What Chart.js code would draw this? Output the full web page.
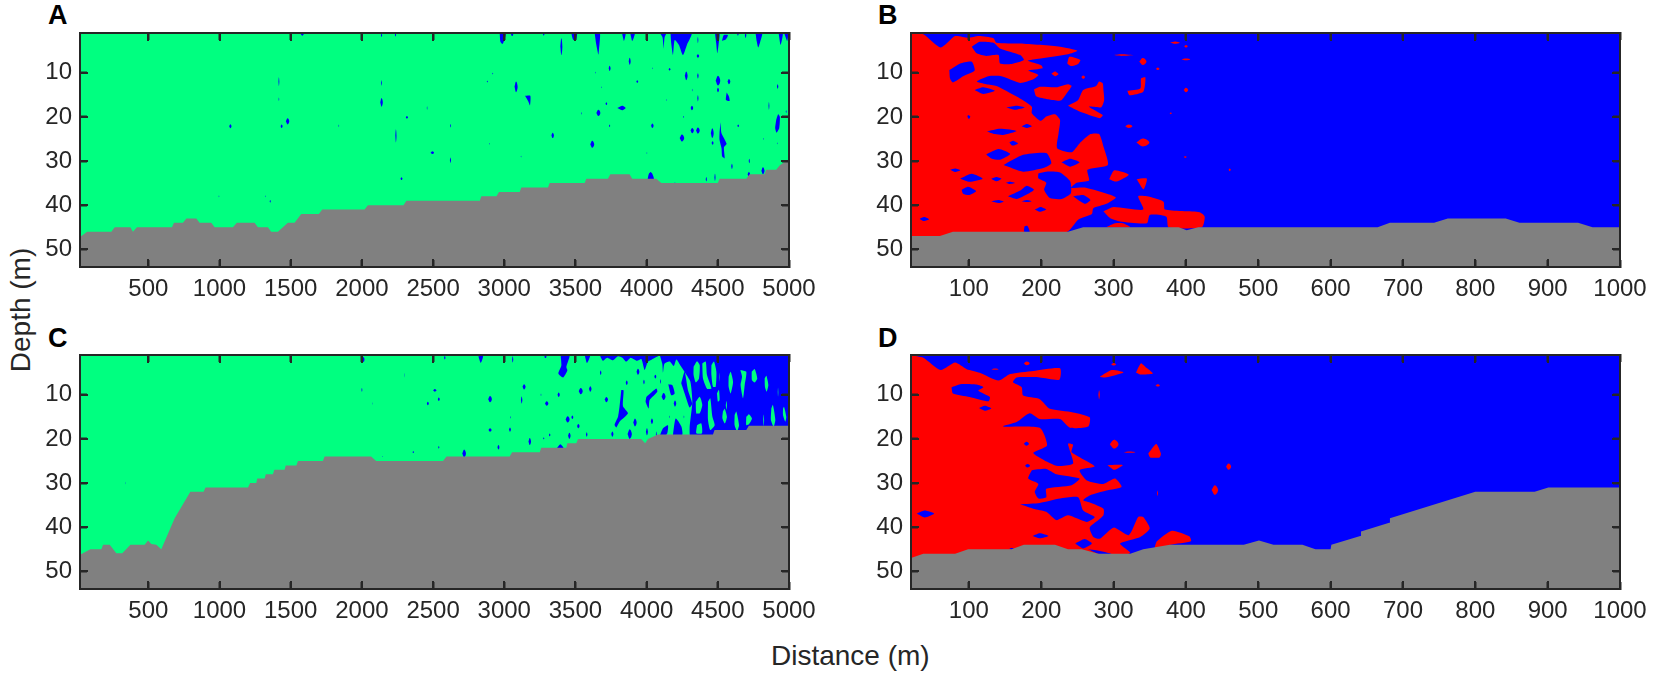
<!DOCTYPE html>
<html><head><meta charset="utf-8">
<script src="https://cdn.jsdelivr.net/npm/chart.js@4"></script>
<style>
html,body{margin:0;padding:0;background:#fff;width:1654px;height:679px;overflow:hidden;font-family:"Liberation Sans",Arial,sans-serif;color:#262626}
canvas{position:absolute}
.t{position:absolute;white-space:nowrap;line-height:1}
.l{font-weight:bold;font-size:27px;color:#000}
.bar{position:absolute;background:#262626;z-index:5}
</style></head><body>
<div class="t l" style="left:48px;top:2px">A</div>
<div class="t l" style="left:878px;top:2px">B</div>
<div class="t l" style="left:48px;top:325px">C</div>
<div class="t l" style="left:878px;top:325px">D</div>
<div class="t" id="dep" style="font-size:28px;left:21px;top:310px;transform:translate(-50%,-50%) rotate(-90deg)">Depth (m)</div>
<div class="t" style="font-size:28px;left:771px;top:642px">Distance (m)</div>
<canvas id="cA"></canvas><canvas id="cB"></canvas><canvas id="cC"></canvas><canvas id="cD"></canvas>
<script>
const depthTop = 1, depthBottom = 54;
const depthTicks = [10,20,30,40,50];
const longTicks = [500,1000,1500,2000,2500,3000,3500,4000,4500,5000];
const shortTicks = [100,200,300,400,500,600,700,800,900,1000];
const longStart = 20, longEnd = 5000, shortStart = 20, shortEnd = 1000;
const green = '#00ff80', blue = '#0000ff', red = '#ff0000', grey = '#808080', ink = '#262626';

// ---- Panel A: sea bed (distance, depth) ----
const bedAx = [20,30,70,240,264,374,392,420,666,680,743,767,837,860,942,966,1094,1122,1246,1270,1340,1363,1410,1480,1527,1574,1698,1721,2019,2042,2292,2313,2828,2839,2945,2963,3108,3120,3307,3319,3565,3576,3728,3745,3880,3899,4068,4103,4500,4512,4700,4723,4828,4840,4910,4934,4980,5000];
const bedAd = [47,47,46,46,45,45,46,45,45,44,44,43,43,44,44,45,45,44,44,45,45,46,46,44,44,42,42,41,41,40,40,39,39,38,38,37,37,36,36,35,35,34,34,33,33,34,34,35,35,34,34,33,33,32,32,31,30,30];
// small patches: distance, depth, half width, half height
const spotsA = [
[1076,22.1,8,.45],[1478,21,12,.7],[1436,22.1,7,.4],[1417,12,3,1],[1417,16,2,.4],[2138,16.7,9,1],[2138,12.3,3,.6],[2316,20.1,8,.3],[2239,24.3,4,1.5],[2278,34,7,.3],[1838,22,2,.3],[1356,39.1,4,.3],[1321,38,2,.2],[1581,1.3,10,.3],[2138,1.5,4,.4],[2236,1.4,4,.4],[996,38,2,.2],
[2495,28.1,12,.3],[2622,22,3,.4],[2622,29.8,4,.6],[2458,18,2,.4],[2881,12,4,.2],[2919,10.2,3,.2],[2898,26.1,2,.2],[3118,29,2,.2],[3083,13.2,11,1.2],[3340,24.2,9,.6],[3401,4.1,7,1.9],[3618,26.2,14,.8],[3661,19.1,14,.7],[3740,9,7,.6],[3881,7.4,7,.8],[3717,17,6,.3],[3740,22,4,.3],[3934,12,7,.3],[4040,22,9,.5],[4161,9.2,7,.3],[4278,10.7,10,1],[4360,10.7,5,.6],[4360,6.2,9,.4],[4360,15.8,4,.7],[4318,18,9,.5],[4320,23.1,12,.6],[4360,23.1,13,.7],[4248,24.8,16,.8],[4461,23.7,10,1.1],[4463,25.9,7,.4],[4501,11.8,16,1.1],[4501,13.9,7,.5],[4578,12,10,.6],[4643,22,6,.3],[4859,17.5,3,.9],[4920,13.1,5,.5],[4599,31.2,5,.6],[4721,30,4,.5],[4817,32.2,11,.8],[4718,33,9,.5],[4480,33.7,4,.8],[4419,34.1,4,.5],[4199,35,2,.2],[3541,19.2,2,.3],[3682,13.3,2,.2],[3642,10,2,.2],[4042,9,2,.2],[4138,16.2,2,.2],[4980,18.8,3,.3],[4320,13.9,2,.3],[4260,20,3,.2],[4822,25,2,.2],[4917,26,2,.2],[4002,28.2,2,.2],[3055,1.2,8,.5],[3277,1.3,5,.3],[4360,2.6,3,.7],[4641,1.3,5,.3],[4695,1.5,5,.6]];
// larger patches: [distances],[depths]
const blobsA = [
[[3146,3183,3181,3169],[15.2,15.2,17.4,16.5]],
[[3794,3829,3853,3829],[18,17.5,18,18.5]],
[[4007,4016,4028,4040,4051],[34.1,32.9,32.5,32.9,34.1]],
[[4910,4924,4936,4931,4913,4903],[20.7,19.4,20,22.6,23.6,22.6]],
[[4519,4526,4562,4543,4548,4531,4526,4512,4512],[21.2,23.7,26.1,26.9,29.4,29,27.1,25.2,23.7]],
[[4562,4578,4583,4557],[14.5,15.4,16.4,16.2]],
[[2968,3010,3001,2987,2973],[1,1,2.6,3.5,3]],
[[3471,3511,3502,3483],[1,1,2.8,2.5]],
[[3635,3672,3665,3661,3647],[1,1,4.9,5.9,3.7]],
[[3827,3853,3841],[1,1,2.8]],
[[3885,3918,3899],[1,1,2.8]],
[[4094,4138,4126,4119,4112],[1,1,2,4.5,2]],
[[4168,4316,4283,4255,4227,4197,4185,4173],[1,1,3.7,6,3.7,2.6,6,3.4]],
[[4480,4512,4505,4496,4489],[1,1,3.7,5.6,3.4]],
[[4529,4541,4571,4555],[2.8,1.5,1.5,2.5]],
[[4765,4812,4798,4784,4774],[1,1,3,4.3,3]],
[[4927,4957,4941],[1,1,3.7]],
[[4966,4994,4987],[1,1,2.8]]];

// ---- Panel B ----
const bedBx = [20,60,78,237,258,390,401,417,665,682,743,762,842,861,942,962,1000];
const bedBd = [47,47,46,46,45,45,45.7,45,45,44,44,43,43,44,44,45,45];
const redB = [
[[20,37,61,81,99,114,134,138,171,226,250,237,189,181,200,202,182,196,189,171,145,127,111,124,138,166,187,187,199,207,219,226,224,222,242,253,268,280,286,292,264,266,249,241,260,303,290,272,270,251,235,20],[1,1.3,4.3,1.7,2.1,1.7,2.2,3.2,3.4,4.1,5,5.8,7,7.3,8.3,9,9.5,10.5,11.5,12.3,10.8,10.8,12,12.6,13,15.4,17.7,19.2,20.9,19.9,19.4,20.7,23.7,27.1,28,26,23.9,23.9,26.7,30.9,32,34.4,34.9,36.1,36,38.2,39.7,40.7,42,43.3,46.1,47.5]],
[[236,239,254,251,241],[7.9,6.4,7.1,8,8.5]],
[[214,219,224,219],[10.2,9.7,10.3,10.8]],
[[190,198,221,237,242,235,227,210,193],[13.8,13.2,13.3,12.6,13,14.7,16.3,16,15.3]],
[[237,251,258,276,280,285,286,287,283,266,285,281,253],[17.5,16.2,13.9,13,12,12.4,13.9,16.2,17.8,17.7,19.6,20.3,18.8]],
[[298,311,328,311],[6,5.8,6,6.2]],
[[378,385,392,385],[3.15,2.9,3.2,3.45]],
[[319,337,338,344,341,322],[14.1,13.55,11.3,11.06,14.3,15.1]],
[[294,301,321,304],[34.1,32.1,33.1,34.65]],
[[332,346,341.4],[34.1,34,36.4]],
[[286,300,341,334,346,369,371,419,426,422,376,373,350,346,309,295],[41.4,40.4,41,38,38,39.2,41,41.6,42.6,45,45,42.6,42.2,44.1,43.7,42.9]],
[[290,302,313,323],[45,44.1,44.1,45]]];
const redSpotsB = [[258,11,2.5,.35],[400,4,2.5,.3],[400,7,6,.2],[340.5,7.45,5,.8],[361,9.1,2.5,.3],[400,13.9,3,.5],[379,19.2,1.5,.2],[321,22.1,5,.4],[340.5,25.8,9,.9],[399,29.1,2,.2],[460.5,32,1.5,.3]];
const holesB = [
[[104,115,134,143,171,176,159,143,141,124,111],[4.1,3,3.2,4.5,6,7.1,8,7.9,6,6.2,5.6]],
[[73,88,104,108,92,78,74],[9.4,7.9,7.5,9.5,10.8,12.2,11.3]],
[[108,120,136,120],[13.9,13.3,14.1,14.8]],
[[152,166,177,164],[17.9,17.5,17.9,18.4]],
[[99,102,100,98],[19.6,19.9,20.5,19.9]],
[[173,180,187,180],[22.1,21.6,22.1,22.5]],
[[125,143,166,147,136],[23.3,22.7,23.2,24.1,23.9]],
[[156,161,168,160],[25.8,25.4,26,26.5]],
[[124,141,157,143,131],[28.5,27.3,28.4,29.7,29.4]],
[[148,175,207,214,203,175],[30.9,28.6,28.2,30.5,31.6,32.4]],
[[228,240,253,240],[30.3,29.5,30.3,31.3]],
[[74,81,88,81],[32,31.7,32.1,32.5]],
[[88,104,119,101],[34,32.9,34,34.7]],
[[131,138,145,138],[34,33.6,34,34.6]],
[[151,157,164,157],[34.9,34.7,35,35.2]],
[[90,99,110,101,92],[36.5,35.8,36.8,37.7,37.4]],
[[154,171,180,190,182,166],[38,36.7,35.6,36.5,37.4,38.6]],
[[131,141,148,141],[39.1,38.8,39.2,39.5]],
[[173,180,187,180],[39.1,38.8,39.1,39.3]],
[[191,199,207,198],[41,40.4,41,41.5]],
[[32,38,45,38],[43.1,42.7,43.2,43.6]],
[[176,177,181,184],[46,44.8,44.7,46]],
[[244,258,268,260],[38,37.7,38.8,39.7]],
[[196,207,226,240,241,228,212,204,207,196],[32.8,32.4,32.6,34.6,37.3,38.6,38.4,36.5,34.9,33.9]]];

// ---- Panel C ----
const bedCx = [20,30,93,170,182,229,275,317,374,474,498,521,556,591,650,685,795,888,902,1200,1215,1258,1265,1317,1325,1375,1385,1457,1465,1540,1551,1726,1738,2065,2100,2570,2594,3038,3055,3249,3260,3436,3443,3506,3518,3962,3990,4009,4080,4466,4477,4700,4718,5000];
const bedCd = [46.1,46.1,45,45,44,44,45.9,45.9,44,44,43,43.8,44,45,40.6,38,32,32,31,31,30,30,29,29,28,28,27,27,26,26,25,25,24,24,25,25,24,24,23,23,22,22,21,21,20,20,21,20,19,19,18,18,17,17];
const spotsC = [
[2512,9,12,.3],[2463,12,7,.4],[2540,11,7,.4],[2900,11,13,.7],[3122,11.2,5,.8],[3139,8.2,11,.6],[3298,12,12,.5],[3382,10,8,.5],[3537,9.2,14,.7],[3604,8.7,9,.6],[3717,11.1,12,.6],[3677,5,5,.5],[3939,4.8,10,.7],[3860,7.3,7,.5],[3981,7.1,5,.5],[4061,5.9,7,.4],[4119,10.4,14,.8],[4199,12,9,.7],[4037,16,8,.6],[3918,16.3,12,.9],[4002,18.4,7,.8],[3881,18.9,15,1.1],[3759,18.9,8,.6],[3579,19,5,.5],[3457,19.3,9,.7],[3520,17.1,9,.5],[3445,15.6,14,.7],[3478,15.1,7,.4],[3319,19.1,5,.3],[3277,19.9,4,.2],[3179,20.6,9,.8],[3040,17.9,7,.5],[2900,18,11,.4],[2959,21.9,7,.5],[2718,23.3,13,.9],[2540,21.9,4,.3],[2362,23,4,.2],[3043,15.1,2,.3],[3258,10,2,.3],[2582,1.6,5,.4],[3059,2,4,.7],[3289,1.4,8,.3],[2012,2,6,.6],[2000,8.9,3,.4],[2077,12,1,.3],[2297,5.6,1,.5],[2358,23,1,.2],[339,30,1,.3],[2143,24,2,.1],[4098,7,3,.5],[4068,19,3,.7],[4161,15,2,.3],[4262,15,2,.3]];
const blobsC = [
[[2818,2851,2835],[1.3,1.3,2.8]],
[[3396,3459,3436,3443,3413,3380,3401],[1,1,3.7,4.5,6.1,5.2,3.4]],
[[3565,3604,3581],[1,1,2.8]],
[[3370,3394,3417],[22.1,21.2,22.1]],
[[3670,3693,3722,3764,3799,3829,3857,3888,3932,3963,3986,4009,4037,4091],[1,2.3,1.6,2.2,1.3,1.6,2.5,1.6,2.3,1.9,4.4,2.5,2,1]],
[[3822,3838,3834,3869,3810,3787,3775,3799,3810],[8.9,9,12.6,14.2,16.1,17.4,16.8,15,12.6]],
[[3998,4068,4075,4021,4014,3993],[10.5,8.6,9.3,11.2,13.1,11.6]],
[[4152,4180,4197,4173],[7.6,7.8,9.7,10.1]],
[[4243,4267,4290,4320,4302,4267],[7.4,4.8,8.9,12,12.9,9.7]],
[[4091,4115,4150,4145,4115],[19.5,17.6,16.9,18.7,19.9]],
[[4185,4204,4244,4250],[19.1,15.4,17.2,19.1]],
[[4092,4110,4115,4125,4162,4190,4209,4240,4270,4307,4321,4302,4314,5000,5000],[1,3,5,3,2.5,3.5,2,3.5,5,7,11.6,17.6,20,20,1]]];
const fingersC = [
[[4330,4354,4373,4368,4345,4330],[3.67,2.39,3.29,6.3,7.2,5.55]],
[[4391,4415,4424,4455,4424,4396],[2.9,2.5,5.55,8.6,8.6,6.3]],
[[4455,4473,4490,4485,4466,4455],[3.3,2.5,4.8,8.2,8.2,5.55]],
[[4345,4373,4391,4373,4349],[11.6,10.45,12.3,14.2,14.2]],
[[4431,4447,4462,4478,4447,4431],[11.6,10.8,15,16.9,18,15.7]],
[[4354,4384,4389,4349],[16.9,16.5,18.7,18.7]],
[[4494,4508,4513,4501],[9.7,8.9,11.2,11.6]],
[[4576,4590,4607,4590,4576],[5.9,4.8,7.1,9.7,8.2]],
[[4658,4700,4689,4677,4660,4670],[4.4,4.8,7.8,10.8,7.8,5.9]],
[[4738,4759,4777,4759,4740],[4.8,4.2,6.3,7.2,6.7]],
[[4829,4841,4855,4843,4831],[6.3,5.7,7.8,9.3,8.2]],
[[4536,4548,4564,4550,4532],[13.8,13.2,15,16.5,15.3]],
[[4618,4630,4649,4635,4618],[14.6,13.8,16.9,18.2,16.9]],
[[4700,4719,4740,4719,4700],[15,14.4,15.4,16.7,16.9]],
[[4876,4887,4904,4892,4873],[13.1,12.3,15.7,17.2,15.7]],
[[4958,4965,4981,4974,4958],[13.1,12.7,15,16.1,14.6]]];
const fingerSpotsC = [[4560,12.4,4,1],[4822,15.8,3,1.3],[4923,9.4,2,1],[4510,6,1.5,1]];

// ---- Panel D ----
const bedDx = [20,37,81,99,159,176,219,237,256,279,323,341,378,480,501,521,561,579,600,601,641,642,681,682,800,882,901,1000];
const bedDd = [47,46,46,45,45,44,44,45,45,46,46,45,44,44,43,44,44,45,45,44,42,41,39,38,32,32,31,31];
const redD = [
[[20,37,61,81,97,115,141,157,189,226,225,198,166,161,173,175,198,212,244,267,265,240,226,198,184,166,147,198,208,189,221,244,237,244,242,274,253,263,286,302,311,290,267,258,269,286,286,279,267,272,281,300,321,334,341,350,337,309,323,305,20],[1.1,1.6,4.4,2.7,4.2,5,6.8,5.3,4.6,4,6.6,6.1,6.1,7.2,8.3,10.2,11,13.2,14,15.1,17.2,17.5,15.5,15.5,14.2,16.2,17.2,17.5,21.5,23.2,26.1,25.6,21.1,21.3,23,26.2,27.1,29.4,30.2,29,30.9,31.7,32.8,33.9,34.5,35.8,37.3,38.4,40.1,42.2,42.6,40.1,41.8,37.7,37.7,40.3,42.2,43.7,45.8,46.7,47.5]],
[[281,297.6,313.7,288],[5.93,4.42,4.95,6.1]],
[[331,337.7,343.7,354.3,336.8],[4.95,2.9,3.67,5.2,5.4]],
[[348,359,365.4,363.6,350.6],[23.3,21.15,23.3,24.2,24.2]],
[[291.6,312.8,300.8],[25.9,25.9,27]],
[[356.6,359.9,380.7,405,407,378.4,362],[44.7,43.2,40.8,42.1,43.2,44,45]]];
const redSpotsD = [[300,3.1,3.5,.3],[361,7.9,3,.25],[300.8,21.2,6,1],[322,23,8,.15],[459,26.3,3.5,.7],[440,31.6,4.5,1.1],[360.8,32.3,.7,.6],[180,2.9,4,.4],[136,4.2,5,.15],[280,10,1,1]];
const holesD = [
[[187,207,221,253,242,207,207,196,191,196,182],[27.1,26.8,28,29,30.5,31.3,33.2,33.5,32,30.2,29]],
[[171,198,226,251,258,274,263,237,221,207,189],[34.8,34.5,33.5,33.2,36.2,37.7,38.8,37.3,38.4,36.5,35.8]],
[[76,88,111,120,113,129,127,101,78],[8.3,7.6,7.7,8.3,9.1,10.5,11.5,10.5,9.7]],
[[114,122,131,122],[13,12.5,13.1,13.6]],
[[28,39,52,39],[36.9,36.2,36.9,37.8]],
[[188,198,210,198],[42,41.4,42,42.5]],
[[247,260,270,258],[43.7,42.7,43.7,44.8]],
[[265,276,297,279],[45,45.2,46,46]]];
const holeSpotsD = [[179.5,21.1,3.5,.45],[181,26.1,3.5,.4],[159,44.9,3,.2]];

// ---- building ----
const zip = (xs, ds) => xs.map((x, i) => ({x, y: ds[i]}));
const closed = pts => pts.concat([pts[0]]);
const spotPoly = ([x, d, hw, hh]) => closed([{x: x - hw, y: d}, {x, y: d - hh}, {x: x + hw, y: d}, {x, y: d + hh}]);
const shape = (data, color, tension) => ({data, backgroundColor: color, borderWidth: 0, pointRadius: 0, showLine: true, fill: 'shape', tension: tension || 0});
const noPad = s => { s.paddingTop = s.paddingBottom = s.paddingLeft = s.paddingRight = 0; };
const padL = 72, padR = 44, padT = 6, padB = 50;
const setTicks = vals => axis => { axis.ticks = vals.map(value => ({value})); };
const plain = v => String(v);
const bar = (left, top, width, height) => {
  const d = document.createElement('div');
  d.className = 'bar';
  d.style.cssText = `left:${left}px;top:${top}px;width:${width}px;height:${height}px`;
  document.body.appendChild(d);
};

function buildPanel(key, plot, xStart, xEnd, xTicks, water, layers, bedX, bedD) {
  const c = document.getElementById('c' + key);
  const left = plot.l - padL, top = plot.t - padT;
  c.style.left = left + 'px';
  c.style.top = top + 'px';
  const W = plot.r - plot.l + padL + padR, H = plot.b - plot.t + padT + padB;
  c.width = W; c.height = H; c.style.width = W + 'px'; c.style.height = H + 'px';

  const datasets = [shape([{x:xStart,y:depthTop},{x:xEnd,y:depthTop},{x:xEnd,y:depthBottom},{x:xStart,y:depthBottom}], water)];
  layers.forEach(([color, polys, spots]) => {
    (polys || []).forEach(([xs, ds]) => datasets.push(shape(closed(zip(xs, ds)), color, 0.2)));
    (spots || []).forEach(s => datasets.push(shape(spotPoly(s), color, 0.4)));
  });
  datasets.push(shape(zip(bedX, bedD).concat([{x:xEnd,y:depthBottom},{x:xStart,y:depthBottom}]), grey));
  datasets.forEach((d, i) => d.order = -i);

  const grid = {drawOnChartArea:false, drawTicks:true, tickLength:-7, tickWidth:2, tickColor:ink, z:3};
  const border = {display:true, color:ink, width:2, z:3};
  const font = {family:'"Liberation Sans"', size:24};
  const chart = new Chart(c, {
    type:'scatter',
    data:{datasets},
    options:{
      responsive:false, animation:false, events:[],
      elements:{line:{capBezierPoints:false}},
      layout:{autoPadding:false, padding:{left:0,right:padR,top:padT,bottom:0}},
      plugins:{legend:{display:false},tooltip:{enabled:false}},
      scales:{
        x:{type:'linear',position:'bottom',min:xStart,max:xEnd,grid,border,
           ticks:{color:ink,font,padding:15,maxRotation:0,autoSkip:false,callback:plain,z:4},
           afterBuildTicks:setTicks(xTicks),afterFit:s=>{s.height=padB;noPad(s)}},
        x2:{type:'linear',position:'top',min:xStart,max:xEnd,grid,border,
           ticks:{display:false},afterBuildTicks:setTicks(xTicks),afterFit:s=>{s.height=0;noPad(s)}},
        y:{type:'linear',position:'left',min:depthTop,max:depthBottom,reverse:true,grid,border,
           ticks:{color:ink,font,padding:15,autoSkip:false,callback:plain,z:4},
           afterBuildTicks:setTicks(depthTicks),afterFit:s=>{s.width=padL;noPad(s)}},
        y2:{type:'linear',position:'right',min:depthTop,max:depthBottom,reverse:true,grid,border,
           ticks:{display:false},afterBuildTicks:setTicks(depthTicks),afterFit:s=>{s.width=0;noPad(s)}}
      }
    }
  });

  // page-level frame and inward ticks, placed from the chart's own scales
  const a = chart.chartArea, sw = 2, tl = 8;
  const L = left + Math.round(a.left), R = left + Math.round(a.right), T = top + Math.round(a.top), B = top + Math.round(a.bottom);
  bar(L - 1, T - 1, sw, B - T + sw);
  bar(R - 1, T - 1, sw, B - T + sw);
  bar(L - 1, T - 1, R - L + sw, sw);
  bar(L - 1, B - 1, R - L + sw, sw);
  xTicks.forEach(v => {
    const p = left + Math.round(chart.scales.x.getPixelForValue(v));
    bar(p - 1, T, sw, tl);
    bar(p - 1, B - tl, sw, tl);
  });
  depthTicks.forEach(v => {
    const p = top + Math.round(chart.scales.y.getPixelForValue(v));
    bar(L, p - 1, tl, sw);
    bar(R - tl, p - 1, tl, sw);
  });
}
buildPanel('A',{l:80,r:789,t:33,b:267},longStart,longEnd,longTicks,green,[[blue,blobsA,spotsA]],bedAx,bedAd);
buildPanel('B',{l:911,r:1620,t:33,b:267},shortStart,shortEnd,shortTicks,blue,[[red,redB,redSpotsB],[blue,holesB,[]]],bedBx,bedBd);
buildPanel('C',{l:80,r:789,t:355,b:589},longStart,longEnd,longTicks,green,[[blue,blobsC,spotsC],[green,fingersC,fingerSpotsC]],bedCx,bedCd);
buildPanel('D',{l:911,r:1620,t:355,b:589},shortStart,shortEnd,shortTicks,blue,[[red,redD,redSpotsD],[blue,holesD,holeSpotsD]],bedDx,bedDd);
</script>
</body></html>
